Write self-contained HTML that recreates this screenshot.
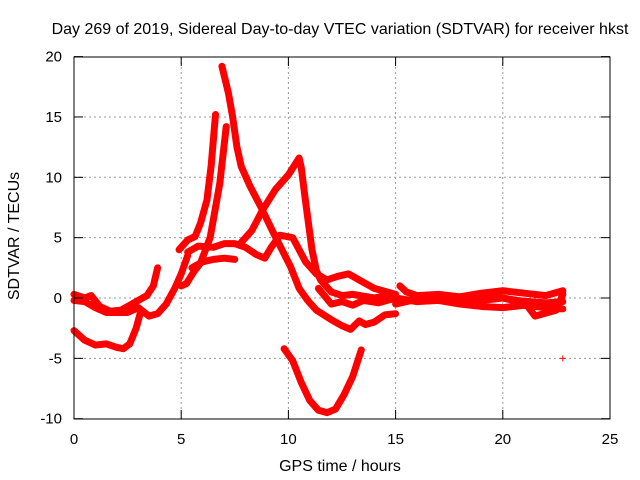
<!DOCTYPE html>
<html><head><meta charset="utf-8"><style>
body{margin:0;background:#fff}
svg{display:block;font-family:"Liberation Sans",sans-serif}
</style></head><body>
<svg id="chart" width="640" height="480">
<text x="340" y="34" font-size="16" text-anchor="middle">Day 269 of 2019, Sidereal Day-to-day VTEC variation (SDTVAR) for receiver hkst</text>
<text x="340" y="471" font-size="16" text-anchor="middle">GPS time / hours</text>
<text transform="translate(19,236) rotate(-90)" font-size="16" text-anchor="middle">SDTVAR / TECUs</text>
<g id="grid"></g>
<g id="series"></g>
<rect x="74" y="57" width="536" height="362" fill="none" stroke="#000" stroke-width="1"/>
<g id="ticks"></g>
</svg>
<script>
const xTicks=[0,5,10,15,20,25];
const yTicks=[-10,-5,0,5,10,15,20];
const sA=[[0,-2.7],[0.5,-3.5],[1,-3.9],[1.5,-3.8],[2,-4.1],[2.3,-4.2],[2.6,-3.8],[2.9,-2.5],[3.1,-1.2]];
const sB=[[0,0.3],[0.5,0],[0.8,0.2],[1.2,-0.7],[1.7,-1.1],[2.2,-1],[2.6,-0.6],[3,-0.2],[3.4,0.2],[3.7,1],[3.9,2.5]];
const sC=[[0,-0.2],[0.5,-0.3],[1,-0.8],[1.5,-1.2],[2.5,-1.2],[3,-0.8],[3.5,-1.5],[3.9,-1.3],[4.3,-0.5],[4.7,0.8],[5,2],[5.3,3.5]];
const sPeak19=[[6.9,19.2],[7.2,17],[7.4,15],[7.6,12.5],[7.8,10.9],[8.2,9.3],[8.7,7.6],[9.3,5.4],[9.7,4],[10.1,2.6],[10.5,0.8],[10.9,-0.2],[11.3,-1],[12,-1.8],[12.5,-2.3],[12.9,-2.6],[13.3,-1.9],[13.6,-2.2],[14,-2],[14.5,-1.4],[15,-1.3]];
const sPeak15=[[4.9,4],[5.3,4.8],[5.65,5.1],[5.9,6.2],[6.2,8.1],[6.4,11],[6.6,15.2]];
const sPeak14=[[5,1],[5.25,1.2],[5.6,2.2],[5.9,2.9],[6.35,5],[6.8,9.5],[7.1,14.2]];
const sShort=[[5.5,2.5],[6,3],[6.5,3.2],[7,3.3],[7.5,3.2]];
const sMid=[[5.3,3.8],[5.8,4.3],[6.5,4.2],[7,4.5],[7.5,4.5],[8,4.2],[8.5,3.6],[8.9,3.3],[9.2,4.2],[9.6,5.2],[10.2,5],[10.8,3],[11.3,2],[11.8,1.5],[12.3,1.8],[12.8,2],[13.3,1.5],[14,0.8],[15,0.3]];
const sRise=[[7.8,4.6],[8.3,5.6],[8.8,7.3],[9.4,9],[10,10.2],[10.5,11.6],[10.6,10.8],[10.8,8],[11.1,4],[11.3,2.3],[11.5,1.5],[12,0.5],[12.5,0.2],[13,0.3],[14,0],[15,0.3]];
const sLoop=[[11.4,0.8],[12,-0.5],[12.5,-0.3],[13,-0.6],[13.5,-0.2],[14.2,-0.4],[14.8,-0.1]];
const sU=[[9.8,-4.2],[10.2,-5.2],[10.6,-7],[11,-8.5],[11.4,-9.3],[11.8,-9.5],[12.2,-9.2],[12.6,-8],[13,-6.5],[13.4,-4.3]];
const sR1=[[15.2,1],[15.5,0.5],[16,0.2],[17,0.3],[18,0.1],[19,0.4],[20,0.6],[21,0.4],[22,0.2],[22.8,0.6]];
const sR2=[[15,0],[16,-0.3],[17,-0.2],[18,-0.5],[19,-0.7],[20,-0.8],[21,-0.6],[22,-0.8],[22.8,-0.9]];
const sR3=[[15,-0.5],[16,-0.1],[18.5,-0.3],[20,0],[21,-0.3],[21.5,-1.5],[22.5,-1],[22.8,0.3]];
const sR4=[[15.3,-0.3],[16.5,0],[18,-0.2],[19.5,0.2],[20.5,-0.2],[22,-0.4],[22.8,-0.3]];
const sSingle=[[22.8,-5]];
const allSeries=[sA,sB,sC,sPeak19,sPeak15,sPeak14,sShort,sMid,sRise,sLoop,sU,sR1,sR2,sR3,sR4];
const NS='http://www.w3.org/2000/svg';
const X=h=>74+h*21.44;
const Y=v=>298-v*12.07;
const grid=document.getElementById('grid'),ticks=document.getElementById('ticks'),ser=document.getElementById('series');
function mk(tag,attrs,parent){const e=document.createElementNS(NS,tag);for(const k in attrs)e.setAttribute(k,attrs[k]);parent.appendChild(e);return e;}
xTicks.forEach(t=>{
  if(t>0&&t<25){const g=mk('line',{x1:X(t),x2:X(t),y1:57,y2:419,stroke:'#999','stroke-dasharray':'2,3'},grid);
  
  }
  mk('line',{x1:X(t),x2:X(t),y1:419,y2:410,stroke:'#000'},ticks);
  mk('line',{x1:X(t),x2:X(t),y1:57,y2:66,stroke:'#000'},ticks);
  const l=mk('text',{x:X(t),y:444,'font-size':15,'text-anchor':'middle'},ticks);l.textContent=t;
  
  
});
yTicks.forEach(t=>{
  if(t>-10&&t<20){const g=mk('line',{x1:74,x2:610,y1:Y(t),y2:Y(t),stroke:'#999','stroke-dasharray':'2,3'},grid);
  
  }
  mk('line',{x1:74,x2:83,y1:Y(t),y2:Y(t),stroke:'#000'},ticks);
  mk('line',{x1:601,x2:610,y1:Y(t),y2:Y(t),stroke:'#000'},ticks);
  const l=mk('text',{x:62,y:Y(t)+5,'font-size':15,'text-anchor':'end'},ticks);l.textContent=t;
  
  
});
allSeries.forEach(s=>{
  const p=mk('polyline',{points:s.map(d=>X(d[0])+','+Y(d[1])).join(' '),fill:'none',stroke:'#f00','stroke-width':7,'stroke-linejoin':'round','stroke-linecap':'round'},ser);
  
  
});
sSingle.forEach(d=>{
  const p=mk('path',{d:`M${X(d[0])-3},${Y(d[1])}h6M${X(d[0])},${Y(d[1])-3}v6`,stroke:'#f00','stroke-width':1},ser);
  
  
});
</script>
</body></html>
